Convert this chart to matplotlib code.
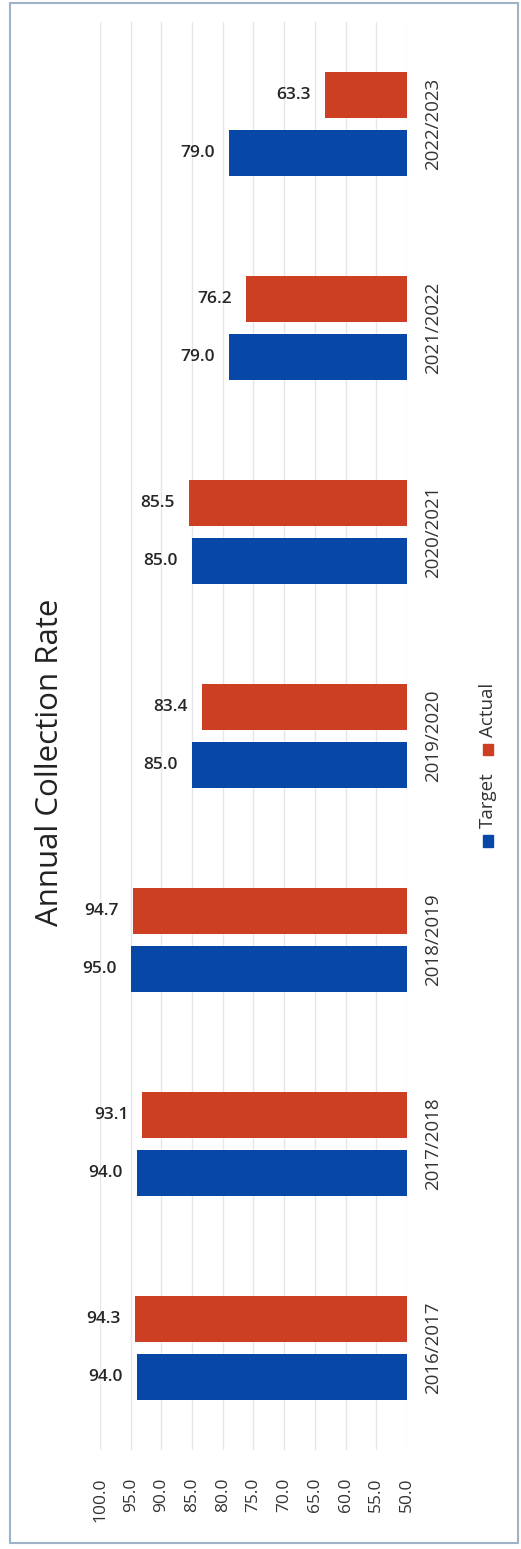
import matplotlib.pyplot as plt
import numpy as np
from matplotlib.patches import Rectangle

plt.rcParams['font.family'] = ['Open Sans', 'DejaVu Sans']

years = ["2016/2017", "2017/2018", "2018/2019", "2019/2020",
         "2020/2021", "2021/2022", "2022/2023"]
target = [94.0, 94.0, 95.0, 85.0, 85.0, 79.0, 79.0]
actual = [94.3, 93.1, 94.7, 83.4, 85.5, 76.2, 63.3]
ticks = [100, 95, 90, 85, 80, 75, 70, 65, 60, 55, 50]

red = "#CD3F22"
blue = "#0747A8"

fig = plt.figure(figsize=(5.21, 15.49), dpi=100)
ax = fig.add_axes([0.192, 0.064, 0.589, 0.922])

y = np.arange(len(years))
h = 0.225
off = 0.142

ax.barh(y - off, np.array(target) - 50, left=50, height=h, color=blue, zorder=3)
ax.barh(y + off, np.array(actual) - 50, left=50, height=h, color=red, zorder=3)

for i in range(len(years)):
    ax.text(target[i] + 2.3, y[i] - off, f"{target[i]:.1f}", ha="right", va="center",
            fontsize=12.5, color="#262626", fontweight="semibold")
    ax.text(actual[i] + 2.3, y[i] + off, f"{actual[i]:.1f}", ha="right", va="center",
            fontsize=12.5, color="#262626", fontweight="semibold")

ax.set_xlim(100, 50)
ax.set_ylim(-0.5, 6.5)
ax.set_xticks(ticks)
ax.set_xticklabels([f"{t:.1f}" for t in ticks], rotation=90, fontsize=12.5, color="#333333")
ax.set_yticks(y)
ax.set_yticklabels(years, rotation=90, va="center", fontsize=13.5, color="#333333")
ax.tick_params(axis="y", left=False, labelleft=False, labelright=True, right=False, pad=9)
ax.tick_params(axis="x", length=0, pad=20)
ax.grid(axis="x", color="#e6e6e6", linewidth=1, zorder=0)
for s in ax.spines.values():
    s.set_visible(False)

fig.text(0.096, 0.508, "Annual Collection Rate", rotation=90, ha="center", va="center",
         fontsize=22.5, color="#222222")

# legend drawn by hand, rotated like the rest of the chart
fig.patches.append(Rectangle((0.927, 0.4535), 0.019, 0.0075, transform=fig.transFigure,
                             color=blue, figure=fig))
fig.text(0.937, 0.4835, "Target", rotation=90, ha="center", va="center",
         fontsize=13.5, color="#333333")
fig.patches.append(Rectangle((0.927, 0.5125), 0.019, 0.0075, transform=fig.transFigure,
                             color=red, figure=fig))
fig.text(0.937, 0.5416, "Actual", rotation=90, ha="center", va="center",
         fontsize=13.5, color="#333333")

# frame around the whole chart
fig.patches.append(Rectangle((0.02, 0.004), 0.975, 0.994, transform=fig.transFigure,
                             fill=False, edgecolor="#9fb3c8", linewidth=1.5, figure=fig))

fig.savefig("out.png", dpi=100)
